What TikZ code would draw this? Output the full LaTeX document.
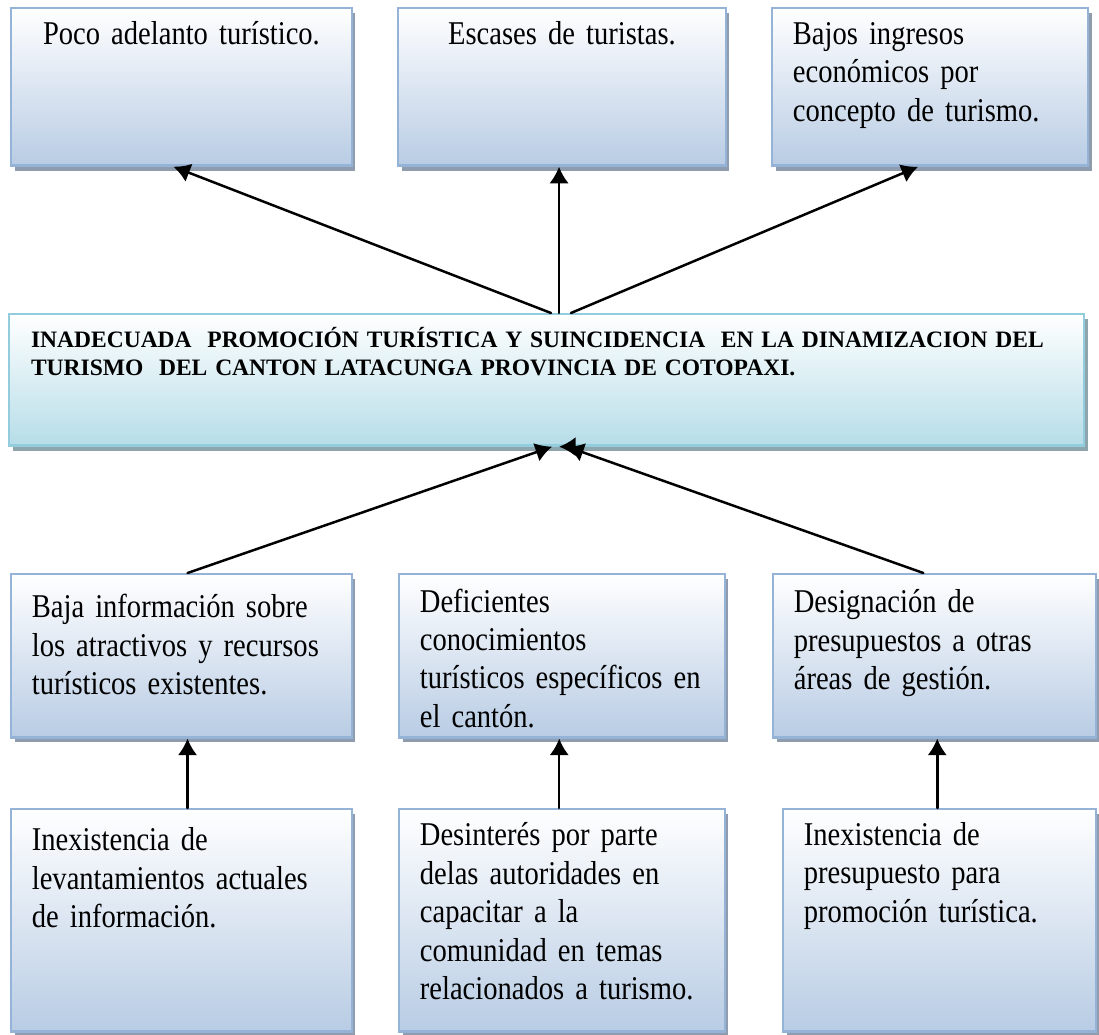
\documentclass[tikz,border=0pt]{standalone}
\usepackage{fontspec}
\setmainfont{Liberation Serif}[FakeStretch=0.86, WordSpace=0.85]
\newfontfamily\titulofont{Liberation Serif}
\usetikzlibrary{arrows.meta,shadows}
\hyphenpenalty=10000
\exhyphenpenalty=10000
\definecolor{bordeazul}{HTML}{95B3D7}
\definecolor{fondoazul}{HTML}{B8CCE4}
\definecolor{bordecian}{HTML}{93CDDD}
\definecolor{fondocian}{HTML}{B6DDE8}
\definecolor{sombra}{HTML}{8E9CAE}
\definecolor{sombracian}{HTML}{8EA5AD}
\tikzset{
  caja/.style={draw=bordeazul, line width=0.8pt, top color=white, bottom color=fondoazul,
    anchor=north west, inner xsep=7.5pt, inner ysep=0pt, align=left,
    font=\fontsize{12}{13.9}\selectfont,
    drop shadow={shadow xshift=1.3pt, shadow yshift=-1.8pt, fill=sombra, opacity=1}},
  efecto/.style={caja, text height=13pt, text depth=43.9pt},
  causa/.style={caja, text height=14pt, text depth=45pt},
  raiz/.style={caja, text height=13.3pt, text depth=67pt},
  problema/.style={caja, draw=bordecian, bottom color=fondocian, inner xsep=7.9pt,
    font=\titulofont\bfseries\fontsize{8.5}{10.1}\selectfont, text height=12.2pt, text depth=35.3pt,
    drop shadow={shadow xshift=1.3pt, shadow yshift=-1.8pt, fill=sombracian, opacity=1}},
  flecha/.style={->, line width=0.9pt}
}
\begin{document}
\begin{tikzpicture}[line cap=round,>={Latex[length=6pt,width=7pt]}]
  \useasboundingbox (0,0) rectangle (13.957,-13.132);
  % efectos
  \node[efecto, align=center, text width=108.1pt] (e1) at (0.127,-0.089) {Poco adelanto turístico.};
  \node[efecto, align=center, text width=103.4pt] (e2) at (5.042,-0.089) {Escases de turistas.};
  \node[efecto, text width=99.1pt] (e3) at (9.792,-0.089) {Bajos ingresos\\ económicos por\\ concepto de turismo.};
  % problema central
  \node[problema, text width=372.6pt] (prob) at (0.102,-3.975)
    {INADECUADA\ \ PROMOCIÓN TURÍSTICA Y SUINCIDENCIA\ \ EN LA DINAMIZACION DEL\\
     TURISMO\ \ DEL CANTON LATACUNGA PROVINCIA DE COTOPAXI.};
  % causas
  \node[causa, text width=108.1pt, text height=15.8pt, text depth=43.2pt] (c1) at (0.127,-7.277)
    {Baja información sobre\\ los atractivos y recursos\\ turísticos existentes.};
  \node[causa, text width=102.7pt, text height=13.7pt, text depth=45.3pt] (c2) at (5.055,-7.277)
    {Deficientes\\ conocimientos\\ turísticos específicos en\\ el cantón.};
  \node[causa, text width=101.6pt] (c3) at (9.804,-7.277)
    {Designación de\\ presupuestos a otras\\ áreas de gestión.};
  % causas raiz
  \node[raiz, text width=108.1pt, text height=15.1pt, text depth=65.2pt] (d1) at (0.127,-10.262)
    {Inexistencia de\\ levantamientos actuales\\ de información.};
  \node[raiz, text width=102.7pt] (d2) at (5.055,-10.262)
    {Desinterés por parte\\ delas autoridades en\\ capacitar a la\\ comunidad en temas\\ relacionados a turismo.};
  \node[raiz, text width=98pt, text height=13pt, text depth=67.3pt] (d3) at (9.931,-10.262)
    {Inexistencia de\\ presupuesto para\\ promoción turística.};
  % flechas hacia los efectos
  \draw[flecha] ([xshift=1.6pt]prob.north) -- ([xshift=-2.9pt]e1.south);
  \draw[flecha] ([xshift=4.5pt]prob.north) -- ([xshift=4.5pt]prob.north |- e2.south);
  \draw[flecha] ([xshift=8.8pt]prob.north) -- ([xshift=-4.3pt]e3.south);
  % flechas desde las causas
  \draw[flecha] ([xshift=2.2pt]c1.north) -- ([xshift=2pt]prob.south);
  \draw[flecha] ([xshift=4.5pt]prob.south -| c2.north) -- ([xshift=4.5pt]prob.south);
  \draw[flecha] ([xshift=-4pt]c3.north) -- ([xshift=7.4pt]prob.south);
  \draw[flecha] ([xshift=2.2pt]d1.north) -- ([xshift=2.2pt]c1.south);
  \draw[flecha] ([xshift=-1pt]d2.north) -- ([xshift=-1pt]d2.north |- c2.south);
  \draw[flecha] ([xshift=-0.8pt]d3.north) -- ([xshift=-0.8pt]d3.north |- c3.south);
\end{tikzpicture}
\end{document}
